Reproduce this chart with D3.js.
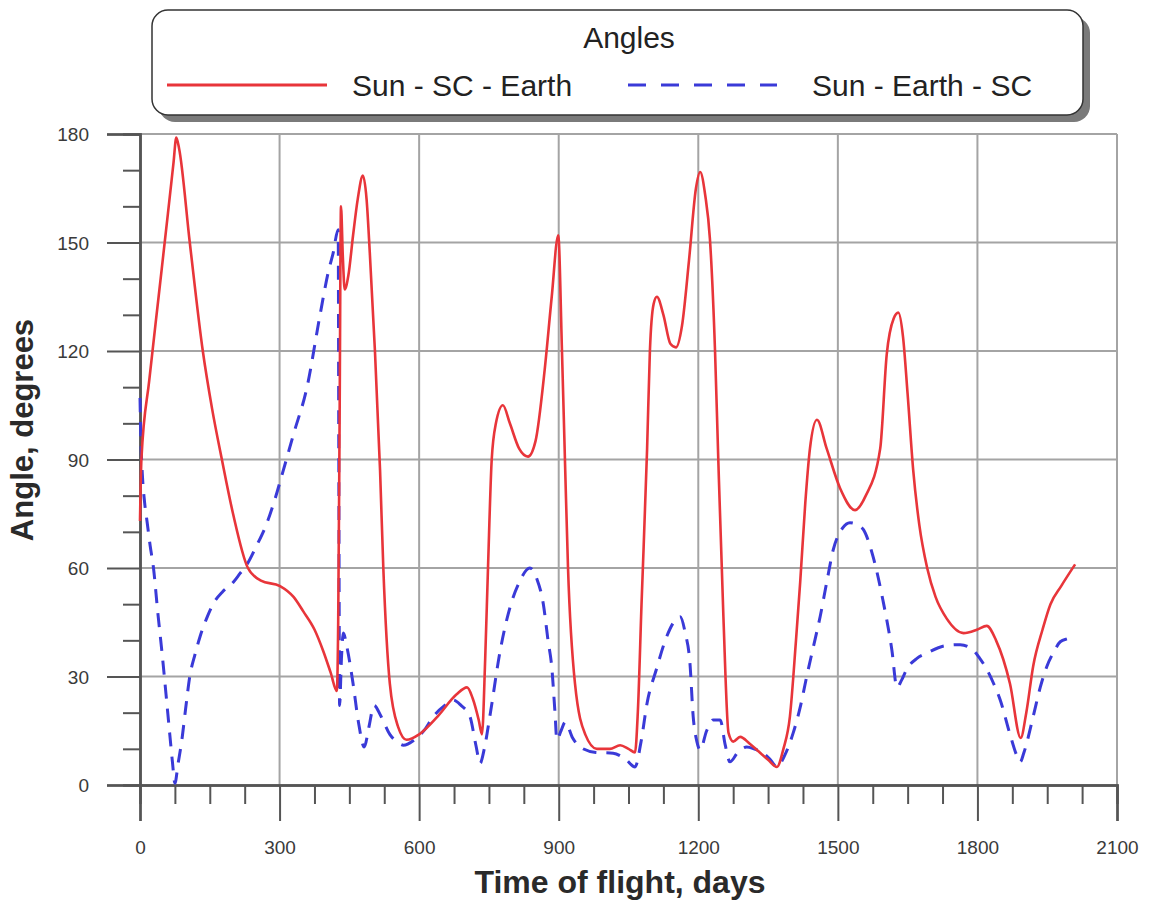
<!DOCTYPE html>
<html><head><meta charset="utf-8">
<script src="https://cdn.jsdelivr.net/npm/d3@7"></script>
<style>body{margin:0;background:#fff}svg{display:block}text{font-family:"Liberation Sans",Arial,sans-serif}</style>
</head><body>
<svg id="c" width="1149" height="906"></svg>
<script>
const xTicks = [0,300,600,900,1200,1500,1800,2100];
const yTicks = [0,30,60,90,120,150,180];
const seriesNames = ["Sun - SC - Earth","Sun - Earth - SC"];
const sunScEarth = [[0,73],[3,90],[20,112],[40,135],[60,158],[72,172],[78,179],[84,176],[107,150],[135,120],[155,104],[176,90],[200,75],[232,60],[260,56.5],[301,55],[330,52],[351,48],[375,43],[394,37],[410,31],[423,26],[426,45],[429,100],[432,160],[436,146],[440,137],[448,141],[458,152],[468,162],[479,168.5],[487,162],[494,147],[505,120],[516,87],[523,60],[537,28],[555,16],[573,12.5],[600,14],[640,19],[680,25],[703,27],[715,24],[728,18],[735,14],[742,35],[748,60],[756,90],[765,100],[780,105],[795,100],[815,93],[834,90.8],[850,95],[870,115],[885,135],[899,152],[907,120],[914,87],[920,60],[935,28],[957,14],[982,10],[1010,10],[1032,11],[1050,10],[1064,9],[1070,20],[1078,50],[1090,93],[1096,120],[1104,133],[1111,135],[1125,130],[1140,122],[1152,121],[1165,127],[1180,145],[1195,165],[1204,169.5],[1215,163],[1225,151],[1236,120],[1243,90],[1254,46.5],[1265,14.4],[1275,12],[1290,13.3],[1310,11.5],[1326,9.7],[1350,7],[1369,5],[1383,10],[1397,19],[1410,40],[1419,56],[1430,78],[1440,93],[1455,101],[1476,93],[1505,82],[1537,76],[1560,80],[1591,93],[1605,119],[1620,129],[1630,130.6],[1640,124],[1650,108],[1662,87],[1675,72],[1692,60],[1710,52],[1734,46],[1770,42],[1800,43],[1820,44],[1840,40],[1870,28],[1893,13],[1905,20],[1920,33],[1940,43],[1957,50],[1980,55],[2010,61]];
const sunEarthSc = [[0,107],[2,95],[5,86],[10,78],[15,73],[22,66],[29,60],[38,48],[47,37],[56,25],[64,14],[70,6],[75,0.5],[82,6],[90,12.5],[98,21],[107,30],[118,36],[129,41],[143,46],[157,50],[178,53.5],[200,56],[215,58.5],[230,61],[250,66],[273,72.5],[290,79],[308,87],[330,97],[359,110],[387,130],[405,142],[415,147],[426,153.5],[427.5,80],[429,22],[433,35],[437,42],[445,38],[458,28],[470,17],[482,10.5],[492,16],[503,22],[518,19],[537,14],[552,12],[566,11],[590,12.5],[610,15],[631,19],[655,22],[673,23.5],[690,22],[709,19],[722,11],[731,6],[740,10],[752,19],[774,37],[795,49],[815,56],[838,60],[853,57],[867,50],[877,40],[885,32.7],[892,20],[896,12.5],[905,15],[914,17.4],[930,13],[946,10.5],[980,9],[1017,8.8],[1045,7],[1064,5],[1077,12],[1090,22.7],[1110,32],[1132,41],[1150,45.5],[1161,46.5],[1172,42],[1182,33.8],[1189,19],[1197,12],[1204,9.7],[1218,15],[1232,18],[1247,18],[1258,11],[1268,6.4],[1285,9],[1304,10.5],[1320,10],[1340,8.8],[1355,7],[1369,5],[1385,8],[1404,14.4],[1420,22],[1433,30],[1447,38],[1462,46.6],[1476,56],[1490,65],[1510,71],[1526,72.5],[1541,72],[1555,70.6],[1576,63],[1597,51],[1616,37.4],[1627,27],[1637,29],[1648,32],[1670,35],[1692,36.5],[1730,38.5],[1763,38.8],[1790,37.4],[1805,35],[1820,32],[1835,28],[1849,23.5],[1870,14],[1885,8],[1892,6.4],[1900,9],[1920,19],[1935,27],[1949,32.7],[1965,37],[1978,39.6],[1995,40.5],[2006,41]];

const svg = d3.select("#c");
const x = d3.scaleLinear().domain([0,2100]).range([140,1117]);
const y = d3.scaleLinear().domain([0,180]).range([785,134]);
const red = "#e8353a", blue = "#3a3ad8";

// grid
const g = svg.append("g");
g.selectAll(".gx").data(xTicks.slice(1)).join("line")
  .attr("x1",d=>x(d)).attr("x2",d=>x(d)).attr("y1",y(0)).attr("y2",y(180))
  .attr("stroke","#a4a4a4").attr("stroke-width",2);
g.selectAll(".gy").data(yTicks.slice(1)).join("line")
  .attr("x1",x(0)).attr("x2",x(2100)).attr("y1",d=>y(d)).attr("y2",d=>y(d))
  .attr("stroke","#a4a4a4").attr("stroke-width",2);

// axes
const xMinor = d3.range(0,2101,75).filter(v=>v%300!==0);
const yMinor = d3.range(0,181,10).filter(v=>v%30!==0);
const xAxis = svg.append("g").attr("transform",`translate(0,${y(0)})`)
  .call(d3.axisBottom(x).tickValues(xTicks).tickSize(36).tickPadding(20).tickFormat(d3.format("d")));
const xAxisMinor = svg.append("g").attr("transform",`translate(0,${y(0)})`)
  .call(d3.axisBottom(x).tickValues(xMinor).tickSize(19).tickFormat(""));
const yAxis = svg.append("g").attr("transform",`translate(${x(0)},0)`)
  .call(d3.axisLeft(y).tickValues(yTicks).tickSize(33).tickPadding(18).tickFormat(d3.format("d")));
const yAxisMinor = svg.append("g").attr("transform",`translate(${x(0)},0)`)
  .call(d3.axisLeft(y).tickValues(yMinor).tickSize(17).tickFormat(""));
[xAxis,xAxisMinor,yAxis,yAxisMinor].forEach(a=>{
  a.select(".domain").attr("stroke","#555").attr("stroke-width",2.5);
  a.selectAll(".tick line").attr("stroke","#555").attr("stroke-width",2);
  a.selectAll(".tick text").attr("fill","#3a3a3a").style("font-size","19px");
});
yAxis.selectAll(".tick text").attr("dy","0.35em");

// lines
const line = d3.line().x(d=>x(d[0])).y(d=>y(d[1])).curve(d3.curveMonotoneX);
svg.append("path").datum(sunEarthSc).attr("d",line).attr("fill","none")
  .attr("stroke",blue).attr("stroke-width",3).attr("stroke-dasharray","14,10");
svg.append("path").datum(sunScEarth).attr("d",line).attr("fill","none")
  .attr("stroke",red).attr("stroke-width",2.6);

// axis titles
svg.append("text").attr("x",620).attr("y",893).attr("text-anchor","middle")
  .style("font-size","32px").style("font-weight","bold").attr("fill","#2a2a2a").text("Time of flight, days");
svg.append("text").attr("transform","translate(33,430) rotate(-90)").attr("text-anchor","middle")
  .style("font-size","31px").style("font-weight","bold").attr("fill","#2a2a2a").text("Angle, degrees");

// legend
const lg = svg.append("g");
lg.append("rect").attr("x",159).attr("y",17).attr("width",931).attr("height",105).attr("rx",16)
  .attr("fill","#7a7a7a");
lg.append("rect").attr("x",152).attr("y",10).attr("width",931).attr("height",105).attr("rx",16)
  .attr("fill","#fff").attr("stroke","#333").attr("stroke-width",1.5);
lg.append("text").attr("x",629).attr("y",48).attr("text-anchor","middle")
  .style("font-size","30px").attr("fill","#222").text("Angles");
lg.append("line").attr("x1",167).attr("x2",327).attr("y1",85).attr("y2",85)
  .attr("stroke",red).attr("stroke-width",3);
lg.append("text").attr("x",352).attr("y",96).style("font-size","30px").attr("fill","#222").text(seriesNames[0]);
lg.append("line").attr("x1",628).attr("x2",777).attr("y1",85).attr("y2",85)
  .attr("stroke",blue).attr("stroke-width",3).attr("stroke-dasharray","18,15");
lg.append("text").attr("x",812).attr("y",96).style("font-size","30px").attr("fill","#222").text(seriesNames[1]);
</script>
</body></html>
